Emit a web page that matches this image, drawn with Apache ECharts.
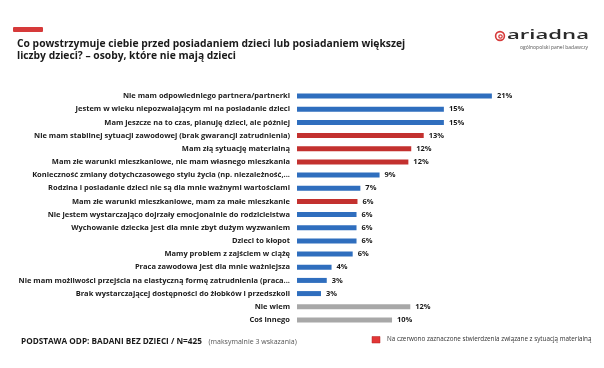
<!DOCTYPE html>
<html>
<head>
<meta charset="utf-8">
<script src="https://cdn.jsdelivr.net/npm/echarts@6/dist/echarts.min.js"></script>
<style>html,body{margin:0;padding:0;background:#fff}#c{width:604px;height:368px}</style>
</head>
<body>
<div id="c"></div>
<script>
const categories = [
  "Nie mam odpowiedniego partnera/partnerki",
  "Jestem w wieku niepozwalającym mi na posiadanie dzieci",
  "Mam jeszcze na to czas, planuję dzieci, ale później",
  "Nie mam stabilnej sytuacji zawodowej (brak gwarancji zatrudnienia)",
  "Mam złą sytuację materialną",
  "Mam złe warunki mieszkaniowe, nie mam własnego mieszkania",
  "Konieczność zmiany dotychczasowego stylu życia (np. niezależność,...",
  "Rodzina i posiadanie dzieci nie są dla mnie ważnymi wartościami",
  "Mam złe warunki mieszkaniowe, mam za małe mieszkanie",
  "Nie jestem wystarczająco dojrzały emocjonalnie do rodzicielstwa",
  "Wychowanie dziecka jest dla mnie zbyt dużym wyzwaniem",
  "Dzieci to kłopot",
  "Mamy problem z zajściem w ciążę",
  "Praca zawodowa jest dla mnie ważniejsza",
  "Nie mam możliwości przejścia na elastyczną formę zatrudnienia (praca...",
  "Brak wystarczającej dostępności do żłobków i przedszkoli",
  "Nie wiem",
  "Coś innego"
];
const values = [20.3, 15.3, 15.3, 13.2, 11.9, 11.6, 8.6, 6.6, 6.3, 6.2, 6.2, 6.2, 5.8, 3.6, 3.1, 2.5, 11.8, 9.9];
const valueLabels = ["21%", "15%", "15%", "13%", "12%", "12%", "9%", "7%", "6%", "6%", "6%", "6%", "6%", "4%", "3%", "3%", "12%", "10%"];
const groups = ["other","other","other","material","material","material","other","other","material","other","other","other","other","other","other","other","none","none"];

const groupColor = {other: "#2F6EBE", material: "#C3312F", none: "#A8A8A8"};

const chart = echarts.init(document.getElementById('c'), null, {renderer: 'canvas'});
chart.setOption({
  backgroundColor: '#fff',
  animation: false,
  title: {
    text: 'Co powstrzymuje ciebie przed posiadaniem dzieci lub posiadaniem większej\nliczby dzieci? – osoby, które nie mają dzieci',
    left: 12, top: 33,
    textStyle: {fontFamily: 'Open Sans', fontWeight: 'bold', fontSize: 10.3, lineHeight: 12, color: '#1a1a1a'}
  },
  grid: {left: 297, top: 89.5, width: 240, height: 237},
  xAxis: {type: 'value', min: 0, max: 25, show: false},
  yAxis: {
    type: 'category', inverse: true, data: categories,
    axisLine: {show: false}, axisTick: {show: false},
    axisLabel: {margin: 7, fontFamily: 'Open Sans', fontWeight: 'bold', fontSize: 7.5, color: '#1a1a1a'}
  },
  series: [{
    type: 'bar', barWidth: 5,
    data: values.map((v, i) => ({value: v, itemStyle: {color: groupColor[groups[i]]}})),
    label: {
      show: true, position: 'right', distance: 5,
      formatter: p => valueLabels[p.dataIndex],
      fontFamily: 'Open Sans', fontWeight: 'bold', fontSize: 7.5, color: '#1a1a1a'
    }
  }],
  graphic: [
    {type: 'rect', shape: {x: 13, y: 27, width: 30, height: 5, r: 1}, style: {fill: '#D63A3A'}},
    {type: 'circle', shape: {cx: 500, cy: 36, r: 4.4}, style: {fill: 'none', stroke: '#D63A3A', lineWidth: 1.6}},
    {type: 'circle', shape: {cx: 500.5, cy: 36.5, r: 1.7}, style: {fill: 'none', stroke: '#D63A3A', lineWidth: 1.2}},
    {type: 'text', x: 507, y: 28.5, scaleX: 1.7, style: {text: 'ariadna', font: '600 13px "Open Sans"', fill: '#2a2a2a'}},
    {type: 'text', x: 520, y: 45, style: {text: 'ogólnopolski panel badawczy', font: '5px "Open Sans"', fill: '#555'}},
    {type: 'text', left: 21, top: 336, style: {
      rich: {
        b: {fontFamily: 'Open Sans', fontWeight: 'bold', fontSize: 8.2, fill: '#1a1a1a'},
        n: {fontFamily: 'Open Sans', fontSize: 7, fill: '#555'}
      },
      text: '{b|PODSTAWA ODP: BADANI BEZ DZIECI / N=425}  {n|(maksymalnie 3 wskazania)}'
    }},
    {type: 'rect', shape: {x: 372, y: 336.5, width: 8, height: 6.5}, style: {fill: '#E23636', stroke: '#B02222', lineWidth: 0.5}},
    {type: 'text', left: 387, top: 336.5, style: {text: 'Na czerwono zaznaczone stwierdzenia związane z sytuacją materialną', font: '6.3px "Open Sans"', fill: '#333'}}
  ]
});
</script>
</body>
</html>
